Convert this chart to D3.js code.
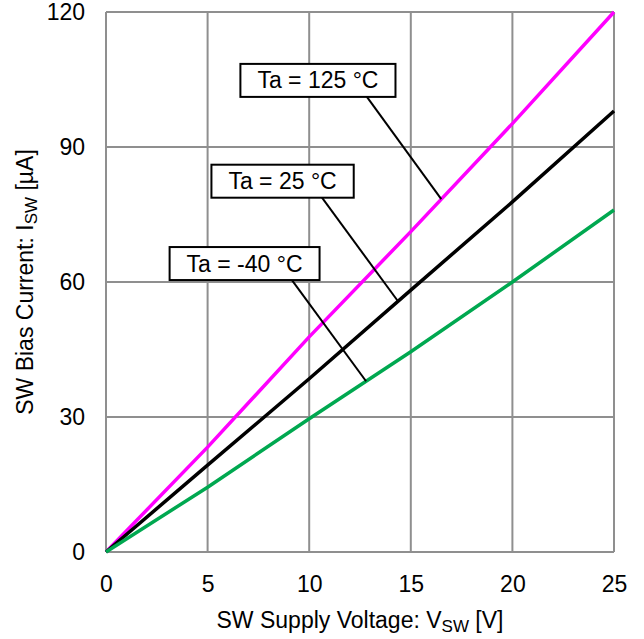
<!DOCTYPE html>
<html><head><meta charset="utf-8">
<script src="https://cdn.jsdelivr.net/npm/d3@7"></script>
<style>
html,body{margin:0;padding:0;background:#fff;}
text{font-family:"Liberation Sans",Arial,sans-serif;fill:#000;}
</style></head>
<body>
<svg id="c" width="644" height="639"></svg>
<script>
const voltages = [0, 5, 10, 15, 20, 25];
const current125 = [0, 23.3, 47.8, 71.2, 95.2, 120];
const current25 = [0, 19.3, 38.5, 58.2, 77.8, 98];
const currentM40 = [0, 14.4, 29.6, 44.5, 60, 76];
const xTicks = [0, 5, 10, 15, 20, 25];
const yTicks = [0, 30, 60, 90, 120];
const seriesNames = ["Ta = 125 °C", "Ta = 25 °C", "Ta = -40 °C"];
const seriesColors = ["#ff00ff", "#000000", "#00a850"];
// annotation: box centre (V, I), leader start V (box bottom) and leader end V (on curve)
const annBoxV = [10.43, 8.69, 6.82];
const annBoxI = [104.8, 82.4, 64.1];
const annFromV = [12.84, 10.63, 9.15];
const annToV = [16.5, 14.37, 12.8];

const svg = d3.select("#c");
const L = 106, R = 614, T = 12, B = 552;
const x = d3.scaleLinear().domain([0, 25]).range([L, R]);
const y = d3.scaleLinear().domain([0, 120]).range([B, T]);
const grid = "#8f8f8f";
const FS = 23;

const g = svg.append("g");
g.selectAll(".vg").data(xTicks).join("line")
  .attr("x1", d => x(d)).attr("x2", d => x(d)).attr("y1", T).attr("y2", B)
  .attr("stroke", grid).attr("stroke-width", 2);
g.selectAll(".hg").data(yTicks).join("line")
  .attr("y1", d => y(d)).attr("y2", d => y(d)).attr("x1", L).attr("x2", R)
  .attr("stroke", grid).attr("stroke-width", 2);

const xAxis = svg.append("g").attr("transform", `translate(0,${B})`)
  .call(d3.axisBottom(x).tickValues(xTicks).tickSize(0).tickPadding(24));
xAxis.select(".domain").remove();
xAxis.selectAll("text").attr("font-size", FS).attr("font-family", "Liberation Sans, Arial, sans-serif").attr("fill", "#000");
const yAxis = svg.append("g").attr("transform", `translate(${L},0)`)
  .call(d3.axisLeft(y).tickValues(yTicks).tickSize(0).tickPadding(21));
yAxis.select(".domain").remove();
yAxis.selectAll("text").attr("font-size", FS).attr("font-family", "Liberation Sans, Arial, sans-serif").attr("fill", "#000");

const allSeries = [current125, current25, currentM40];
const line = d3.line().x((d, i) => x(voltages[i])).y(d => y(d));
allSeries.forEach((s, k) => {
  svg.append("path").datum(s).attr("d", line)
    .attr("fill", "none").attr("stroke", seriesColors[k]).attr("stroke-width", 3.5)
    .attr("stroke-linejoin", "round");
});

function interp(s, v) {
  const i = Math.min(voltages.length - 2, Math.max(0, d3.bisectRight(voltages, v) - 1));
  const t = (v - voltages[i]) / (voltages[i + 1] - voltages[i]);
  return s[i] + t * (s[i + 1] - s[i]);
}

const boxH = 33;
seriesNames.forEach((name, k) => {
  const cx = x(annBoxV[k]), cy = y(annBoxI[k]);
  const x0 = x(annFromV[k]);
  const v1 = annToV[k];
  svg.append("line")
    .attr("x1", x0).attr("y1", cy + boxH / 2)
    .attr("x2", x(v1)).attr("y2", y(interp(allSeries[k], v1)))
    .attr("stroke", "#000").attr("stroke-width", 2);
  const gb = svg.append("g");
  const rect = gb.append("rect");
  const txt = gb.append("text").attr("x", cx).attr("y", cy + 8)
    .attr("text-anchor", "middle").attr("font-size", FS).text(name);
  const w = txt.node().getComputedTextLength() + 34;
  rect.attr("x", cx - w / 2).attr("y", cy - boxH / 2).attr("width", w).attr("height", boxH)
    .attr("fill", "#fff").attr("stroke", "#000").attr("stroke-width", 2);
});

const xt = svg.append("text").attr("x", (L + R) / 2).attr("y", 628)
  .attr("text-anchor", "middle").attr("font-size", FS);
xt.append("tspan").text("SW Supply Voltage: V");
xt.append("tspan").attr("font-size", 17).attr("dy", 4).text("SW");
xt.append("tspan").attr("dy", -4).text(" [V]");

const yt = svg.append("text").attr("transform", `translate(33,${(T + B) / 2}) rotate(-90)`)
  .attr("text-anchor", "middle").attr("font-size", FS);
yt.append("tspan").text("SW Bias Current: I");
yt.append("tspan").attr("font-size", 17).attr("dy", 4).text("SW");
yt.append("tspan").attr("dy", -4).text(" [µA]");
</script>
</body></html>
